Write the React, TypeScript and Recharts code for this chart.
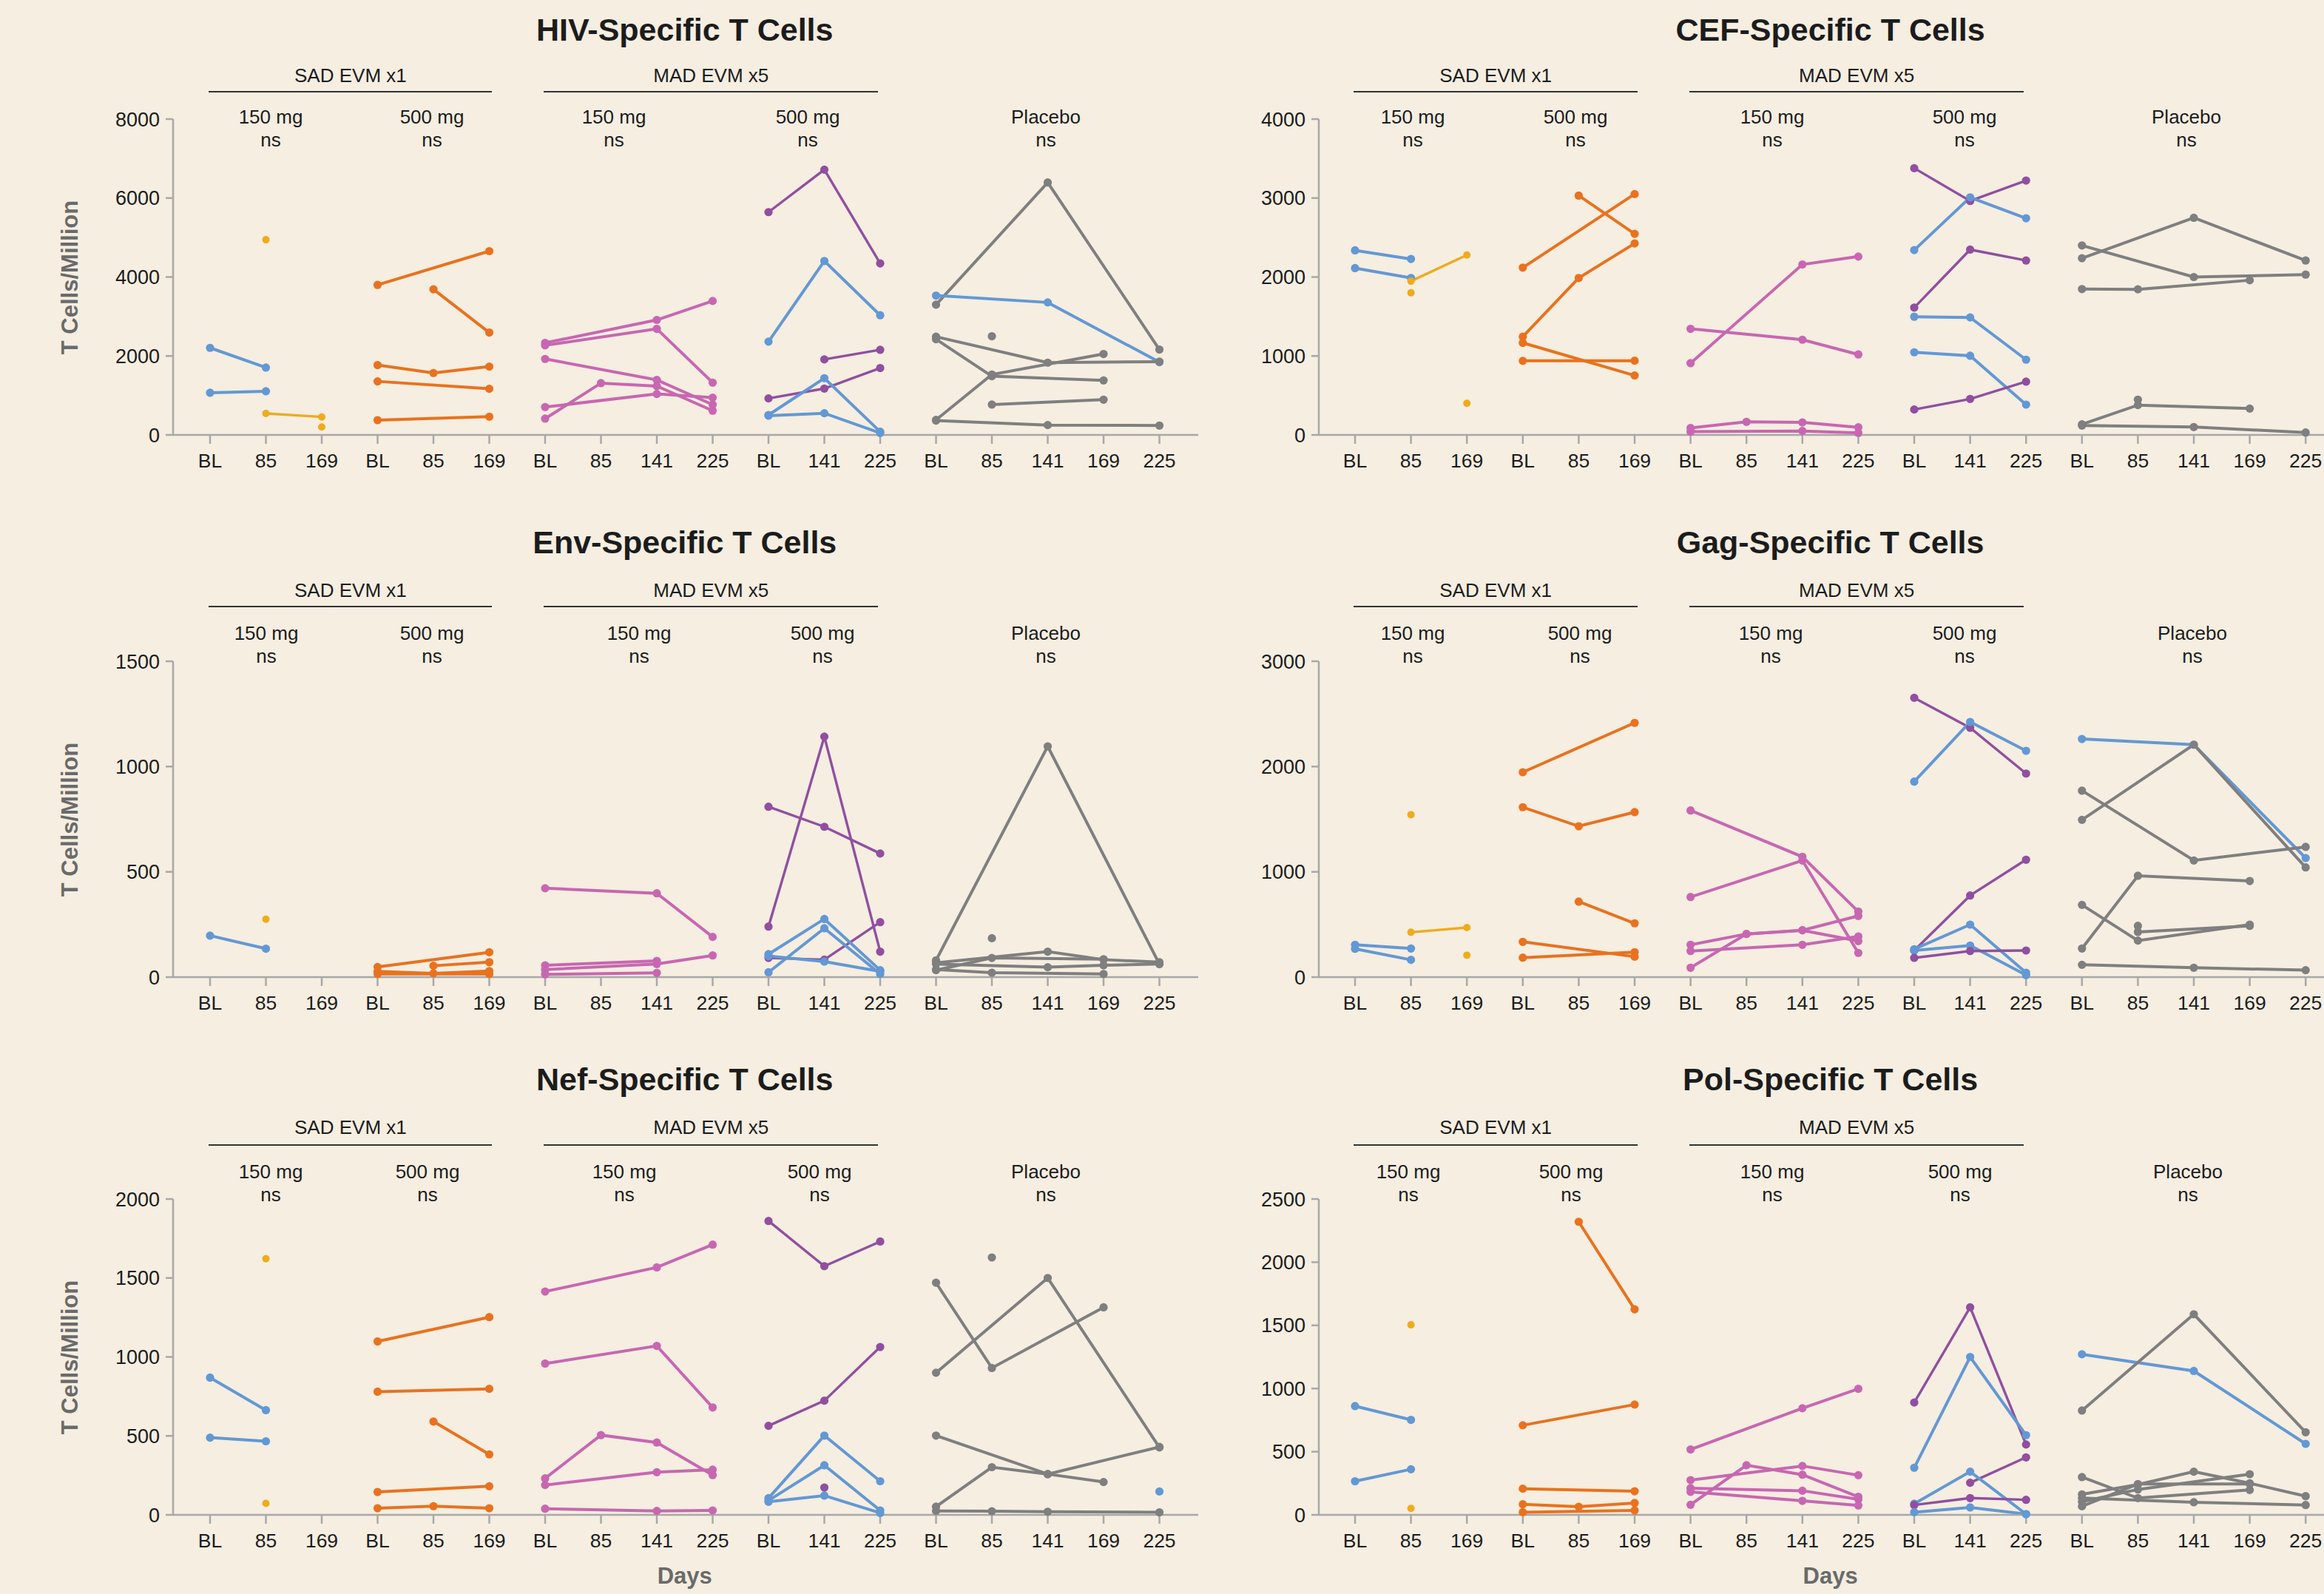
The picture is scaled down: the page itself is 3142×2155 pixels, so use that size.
import { LineChart, Line, XAxis, YAxis } from 'recharts'

// timepoints of each dose group, in order along the x axis
const groupDays = [
    ['BL', '85', '169'],
    ['BL', '85', '169'],
    ['BL', '85', '141', '225'],
    ['BL', '141', '225'],
    ['BL', '85', '141', '169', '225'],
]
const doseLabels = ['150 mg', '500 mg', '150 mg', '500 mg', 'Placebo']
const pLabels = ['ns', 'ns', 'ns', 'ns', 'ns']
const studyLabels = ['SAD EVM x1', 'MAD EVM x5']
const dayTicks = groupDays.flat()

const colors: Record<string, string> = {
    blue: '#6398d4',
    yellow: '#eeab1f',
    orange: '#e8721f',
    pink: '#c767b1',
    purple: '#904f9f',
    gray: '#7f7f7f',
}

// [group, colour, values at the group's timepoints]
type Subject = [number, string, (number | null)[]]

const hivSubjects: Subject[] = [
    [0, 'blue', [2206, 1706, null]],
    [0, 'blue', [1069, 1106, null]],
    [0, 'yellow', [null, 4944, null]],
    [0, 'yellow', [null, 544, 456]],
    [0, 'yellow', [null, null, 200]],
    [1, 'orange', [3800, null, 4656]],
    [1, 'orange', [null, 3688, 2594]],
    [1, 'orange', [1769, 1569, 1731]],
    [1, 'orange', [1356, null, 1169]],
    [1, 'orange', [375, null, 462]],
    [2, 'pink', [2331, null, 2913, 3394]],
    [2, 'pink', [2269, null, 2688, 1325]],
    [2, 'pink', [1925, null, 1394, 769]],
    [2, 'pink', [706, null, 1038, 944]],
    [2, 'pink', [413, 1313, 1238, 613]],
    [3, 'purple', [5644, 6719, 4344]],
    [3, 'blue', [2363, 4406, 3031]],
    [3, 'purple', [null, 1913, 2156]],
    [3, 'purple', [925, 1175, 1694]],
    [3, 'blue', [506, 1438, 81]],
    [3, 'blue', [488, 550, 50]],
    [4, 'gray', [3300, null, 6394, null, 2163]],
    [4, 'blue', [3531, null, 3356, null, 1844]],
    [4, 'gray', [null, 2500, null, null, null]],
    [4, 'gray', [2488, null, 1831, null, 1856]],
    [4, 'gray', [2425, 1488, null, 1381, null]],
    [4, 'gray', [381, 1531, null, 2050, null]],
    [4, 'gray', [null, 769, null, 894, null]],
    [4, 'gray', [363, null, 250, null, 238]],
]

const cefSubjects: Subject[] = [
    [0, 'blue', [2338, 2228, null]],
    [0, 'blue', [2113, 1988, null]],
    [0, 'yellow', [null, 1947, 2278]],
    [0, 'yellow', [null, 1800, null]],
    [0, 'yellow', [null, null, 400]],
    [1, 'orange', [null, 3031, 2547]],
    [1, 'orange', [2119, null, 3050]],
    [1, 'orange', [1244, 1988, 2425]],
    [1, 'orange', [1166, null, 753]],
    [1, 'orange', [938, null, 940]],
    [2, 'pink', [1344, null, 1206, 1019]],
    [2, 'pink', [909, null, 2159, 2259]],
    [2, 'pink', [88, 166, 159, 97]],
    [2, 'pink', [41, null, 50, 25]],
    [3, 'purple', [3378, 2963, 3222]],
    [3, 'blue', [2341, 3009, 2744]],
    [3, 'purple', [1613, 2347, 2209]],
    [3, 'blue', [1497, 1488, 953]],
    [3, 'blue', [1047, 1003, 384]],
    [3, 'purple', [322, 456, 675]],
    [4, 'gray', [2238, null, 2750, null, 2209]],
    [4, 'gray', [2400, null, 2000, null, 2031]],
    [4, 'gray', [1847, 1844, null, 1959, null]],
    [4, 'gray', [null, 447, null, null, null]],
    [4, 'gray', [134, 378, null, 334, null]],
    [4, 'gray', [119, null, 100, null, 31]],
]

const envSubjects: Subject[] = [
    [0, 'blue', [197, 135, null]],
    [0, 'yellow', [null, 275, null]],
    [1, 'orange', [48, null, 118]],
    [1, 'orange', [null, 54, 71]],
    [1, 'orange', [27, 18, 29]],
    [1, 'orange', [15, null, 15]],
    [2, 'pink', [422, null, 398, 191]],
    [2, 'pink', [56, null, 77, null]],
    [2, 'pink', [36, null, 62, 103]],
    [2, 'pink', [13, null, 20, null]],
    [3, 'purple', [240, 1142, 121]],
    [3, 'purple', [809, 714, 587]],
    [3, 'purple', [91, 83, 261]],
    [3, 'blue', [109, 276, 33]],
    [3, 'blue', [23, 232, 15]],
    [3, 'blue', [100, 74, 27]],
    [4, 'gray', [80, null, 1096, null, 62]],
    [4, 'gray', [null, 185, null, null, null]],
    [4, 'gray', [68, null, 121, 83, 71]],
    [4, 'gray', [33, 91, null, 85, null]],
    [4, 'gray', [62, null, 47, 56, 62]],
    [4, 'gray', [36, 21, null, 15, null]],
]

const gagSubjects: Subject[] = [
    [0, 'blue', [307, 272, null]],
    [0, 'blue', [269, 164, null]],
    [0, 'yellow', [null, 1543, null]],
    [0, 'yellow', [null, 426, 471]],
    [0, 'yellow', [null, null, 208]],
    [1, 'orange', [1946, null, 2415]],
    [1, 'orange', [1614, 1433, 1567]],
    [1, 'orange', [null, 717, 511]],
    [1, 'orange', [335, null, 194]],
    [1, 'orange', [185, null, 237]],
    [2, 'pink', [1583, null, 1143, 623]],
    [2, 'pink', [761, null, 1108, 230]],
    [2, 'pink', [307, 410, 445, 342]],
    [2, 'pink', [248, null, 307, 386]],
    [2, 'pink', [89, 410, 445, 581]],
    [3, 'purple', [2653, 2368, 1934]],
    [3, 'blue', [1857, 2424, 2150]],
    [3, 'purple', [253, 775, 1115]],
    [3, 'blue', [265, 499, 42]],
    [3, 'blue', [253, 300, 19]],
    [3, 'purple', [183, 248, 253]],
    [4, 'blue', [2262, null, 2208, null, 1131]],
    [4, 'gray', [1494, null, 2208, null, 1042]],
    [4, 'gray', [1771, null, 1108, null, 1237]],
    [4, 'gray', [272, 963, null, 913, null]],
    [4, 'gray', [686, 347, null, 499, null]],
    [4, 'gray', [null, 429, null, 487, null]],
    [4, 'gray', [null, 487, null, null, null]],
    [4, 'gray', [117, null, 89, null, 66]],
]

const nefSubjects: Subject[] = [
    [0, 'blue', [869, 663, null]],
    [0, 'blue', [489, 466, null]],
    [0, 'yellow', [null, 1622, null]],
    [0, 'yellow', [null, 73, null]],
    [1, 'orange', [1098, null, 1252]],
    [1, 'orange', [780, null, 798]],
    [1, 'orange', [null, 591, 383]],
    [1, 'orange', [145, null, 181]],
    [1, 'orange', [42, 55, 42]],
    [2, 'pink', [1414, null, 1567, 1711]],
    [2, 'pink', [958, null, 1070, 680]],
    [2, 'pink', [231, 505, 458, 252]],
    [2, 'pink', [189, null, 270, 286]],
    [2, 'pink', [39, null, 25, 28]],
    [3, 'purple', [1861, 1575, 1731]],
    [3, 'purple', [564, 723, 1063]],
    [3, 'blue', [106, 502, 213]],
    [3, 'blue', [91, 314, 28]],
    [3, 'blue', [83, 122, 12]],
    [3, 'purple', [null, 173, null]],
    [4, 'gray', [null, 1630, null, null, null]],
    [4, 'gray', [1470, 930, null, 1314, null]],
    [4, 'gray', [900, null, 1500, null, 427]],
    [4, 'gray', [502, null, 258, 208, null]],
    [4, 'gray', [52, 302, 258, null, 430]],
    [4, 'gray', [25, 23, 20, null, 16]],
    [4, 'blue', [null, null, null, null, 148]],
]

const polSubjects: Subject[] = [
    [0, 'blue', [861, 752, null]],
    [0, 'blue', [266, 361, null]],
    [0, 'yellow', [null, 1504, null]],
    [0, 'yellow', [null, 51, null]],
    [1, 'orange', [null, 2320, 1627]],
    [1, 'orange', [709, null, 873]],
    [1, 'orange', [207, null, 187]],
    [1, 'orange', [84, 64, 94]],
    [1, 'orange', [21, null, 35]],
    [2, 'pink', [518, null, 844, 998]],
    [2, 'pink', [275, null, 387, 314]],
    [2, 'pink', [211, null, 191, 123]],
    [2, 'pink', [182, null, 111, 74]],
    [2, 'pink', [80, 393, 318, 143]],
    [3, 'purple', [889, 1643, 557]],
    [3, 'blue', [373, 1250, 631]],
    [3, 'purple', [null, 254, 455]],
    [3, 'blue', [88, 342, 6]],
    [3, 'purple', [78, 133, 119]],
    [3, 'blue', [21, 59, 6]],
    [4, 'blue', [1271, null, 1139, null, 562]],
    [4, 'gray', [826, null, 1588, null, 654]],
    [4, 'gray', [299, 133, null, 197, null]],
    [4, 'gray', [162, 240, 342, 250, 148]],
    [4, 'gray', [104, 201, null, 322, null]],
    [4, 'gray', [68, 244, null, 244, null]],
    [4, 'gray', [133, null, 100, null, 78]],
]

const font = "'Liberation Sans', Arial, Helvetica, sans-serif"
const textColor = '#1c1c1c'
const axisColor = '#a8a8a8'

const groupStart = groupDays.map((_, g) => groupDays.slice(0, g).reduce((n, d) => n + d.length, 0))

const buildRows = (subjects: Subject[]) => {
    const rows: Record<string, number>[] = dayTicks.map((_, i) => ({ x: i }))
    subjects.forEach(([g, , vals], k) => {
        vals.forEach((v, j) => {
            if (v !== null) rows[groupStart[g] + j]['s' + k] = v
        })
    })
    return rows
}

// layout of the 2 x 3 grid
const cols = [
    { axisX: 234, first: 284, step: 75.5, right: 1620, padR: 10 },
    { axisX: 1783, first: 1832, step: 75.6, right: 3142, padR: 0 },
]
const rowsLayout = [
    { top: 161, bottom: 588, title: 40, study: 102, bracket: 124, dose: 158, p: 189 },
    { top: 894, bottom: 1321, title: 733, study: 798, bracket: 820, dose: 856, p: 887 },
    { top: 1621, bottom: 2048, title: 1459, study: 1524, bracket: 1548, dose: 1584, p: 1615 },
]

const panels = [
    { title: 'HIV-Specific T Cells', subjects: hivSubjects, yMax: 8000, yStep: 2000, col: 0, row: 0, doseX: [366, 584, 830, 1092, 1414] },
    { title: 'CEF-Specific T Cells', subjects: cefSubjects, yMax: 4000, yStep: 1000, col: 1, row: 0, doseX: [1910, 2130, 2396, 2656, 2956] },
    { title: 'Env-Specific T Cells', subjects: envSubjects, yMax: 1500, yStep: 500, col: 0, row: 1, doseX: [360, 584, 864, 1112, 1414] },
    { title: 'Gag-Specific T Cells', subjects: gagSubjects, yMax: 3000, yStep: 1000, col: 1, row: 1, doseX: [1910, 2136, 2394, 2656, 2964] },
    { title: 'Nef-Specific T Cells', subjects: nefSubjects, yMax: 2000, yStep: 500, col: 0, row: 2, doseX: [366, 578, 844, 1108, 1414] },
    { title: 'Pol-Specific T Cells', subjects: polSubjects, yMax: 2500, yStep: 500, col: 1, row: 2, doseX: [1904, 2124, 2396, 2650, 2958] },
]

const Txt = ({ x, y, size, bold, color, rotate, children }: any) => (
    <div
        style={{
            position: 'absolute',
            left: x,
            top: y,
            transform: `translate(-50%, -50%)${rotate ? ' rotate(-90deg)' : ''}`,
            fontFamily: font,
            fontSize: size,
            fontWeight: bold ? 'bold' : 'normal',
            color: color || textColor,
            whiteSpace: 'nowrap',
            lineHeight: 1,
        }}
    >
        {children}
    </div>
)

const Panel = ({ cfg }: { cfg: (typeof panels)[number] }) => {
    const col = cols[cfg.col]
    const row = rowsLayout[cfg.row]
    const plotH = row.bottom - row.top
    const chartLeft = col.axisX - 120
    const chartW = col.right - chartLeft + col.padR
    const ix = (i: number) => col.first + col.step * i
    const domain = [(col.axisX - col.first) / col.step, (col.right - col.first) / col.step]
    const yTicks = Array.from({ length: cfg.yMax / cfg.yStep + 1 }, (_, i) => i * cfg.yStep)
    const data = buildRows(cfg.subjects)
    const mid = ix(8.5)

    return (
        <>
            <Txt x={mid} y={row.title} size={43} bold>{cfg.title}</Txt>
            {studyLabels.map((s, k) => {
                const a = ix(k === 0 ? -0.02 : 5.98)
                const b = ix(k === 0 ? 5.05 : 11.96)
                return (
                    <div key={s}>
                        <Txt x={(a + b) / 2} y={row.study} size={26}>{s}</Txt>
                        <div style={{ position: 'absolute', left: a, top: row.bracket - 1, width: b - a, height: 2, background: '#333' }} />
                    </div>
                )
            })}
            {doseLabels.map((d, g) => (
                <div key={g}>
                    <Txt x={cfg.doseX[g]} y={row.dose} size={26}>{d}</Txt>
                    <Txt x={cfg.doseX[g]} y={row.p} size={26}>{pLabels[g]}</Txt>
                </div>
            ))}
            {cfg.col === 0 && (
                <Txt x={94} y={(row.top + row.bottom) / 2} size={31} bold color='#6a6a6a' rotate>T Cells/Million</Txt>
            )}
            {cfg.row === 2 && <Txt x={mid} y={2130} size={31} bold color='#6a6a6a'>Days</Txt>}
            <div style={{ position: 'absolute', left: chartLeft, top: row.top - 20 }}>
                <LineChart width={chartW} height={plotH + 90} data={data} margin={{ top: 20, right: col.padR, bottom: 0, left: 20 }}>
                    <XAxis
                        type='number'
                        dataKey='x'
                        domain={domain}
                        ticks={dayTicks.map((_, i) => i)}
                        interval={0}
                        tickFormatter={(i: number) => dayTicks[i]}
                        height={70}
                        tickSize={12}
                        tickMargin={13}
                        axisLine={{ stroke: axisColor, strokeWidth: 2.5 }}
                        tickLine={{ stroke: axisColor, strokeWidth: 2.5 }}
                        tick={{ fill: textColor, fontSize: 26.5, fontFamily: font }}
                    />
                    <YAxis
                        type='number'
                        domain={[0, cfg.yMax]}
                        ticks={yTicks}
                        interval={0}
                        width={100}
                        tickSize={10}
                        tickMargin={8}
                        axisLine={{ stroke: axisColor, strokeWidth: 2.5 }}
                        tickLine={{ stroke: axisColor, strokeWidth: 2.5 }}
                        tick={{ fill: textColor, fontSize: 27, fontFamily: font }}
                    />
                    {cfg.subjects.map(([, c], k) => (
                        <Line
                            key={k}
                            dataKey={'s' + k}
                            stroke={colors[c]}
                            strokeWidth={c === 'purple' || c === 'yellow' ? 3.4 : 4}
                            connectNulls
                            dot={{ r: c === 'yellow' ? 5 : 5.6, fill: colors[c], stroke: 'none' }}
                            activeDot={false}
                            isAnimationActive={false}
                        />
                    ))}
                </LineChart>
            </div>
        </>
    )
}

const App = () => (
    <div style={{ position: 'absolute', left: 0, top: 0, width: 3142, height: 2155, background: '#f5eee1', overflow: 'hidden' }}>
        {panels.map((p) => (
            <Panel key={p.title} cfg={p} />
        ))}
    </div>
)

export default App
